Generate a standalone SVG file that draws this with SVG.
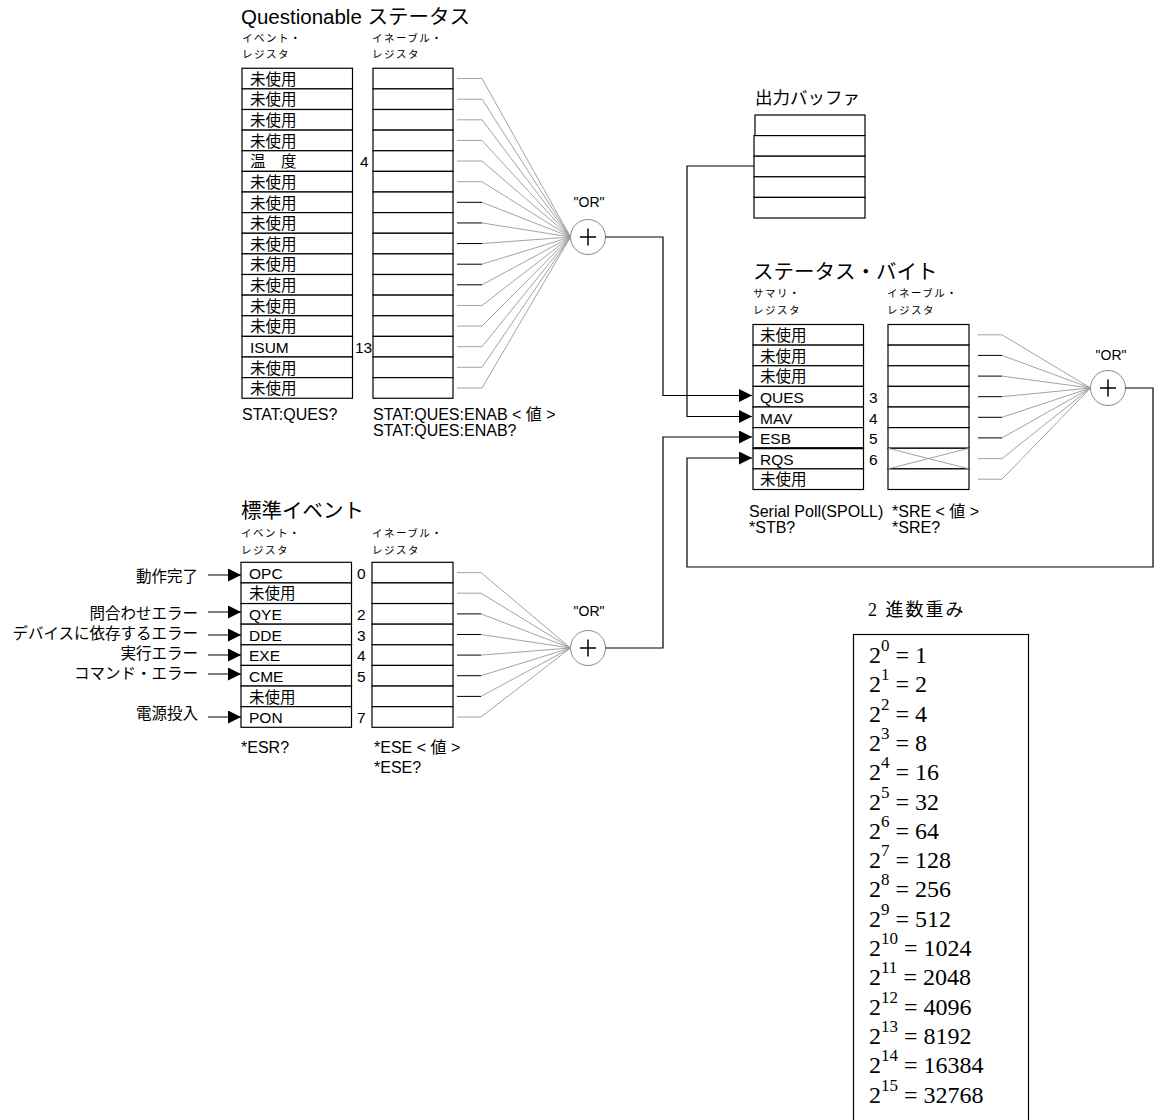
<svg xmlns="http://www.w3.org/2000/svg" width="1157" height="1120" viewBox="0 0 1157 1120">
<style>
text{font-family:"Liberation Sans","Noto Sans CJK JP",sans-serif;fill:#000}
.t{font-size:20.5px}
.tb{font-size:17.5px}
.s{font-size:10.5px;letter-spacing:1.5px}
.r{font-size:15.5px}
.c{font-size:16px}
.or{font-size:14px;text-anchor:middle}
.lb{font-size:15.5px;text-anchor:end}
.box{fill:#fff;stroke:#000;stroke-width:1.2}
.gate{fill:#fff;stroke:#888;stroke-width:1}
.plus{stroke:#000;stroke-width:1.5;fill:none}
.fg{stroke:#999;stroke-width:0.9;fill:none}
.fk{stroke:#000;stroke-width:1;fill:none}
.w{stroke:#000;stroke-width:1.2;fill:none}
.serif{font-family:"Liberation Serif","Noto Sans CJK JP",serif}
.bw{font-size:24px}
</style>
<defs>
<marker id="ah" markerUnits="userSpaceOnUse" markerWidth="13" markerHeight="13" refX="13" refY="6.5" orient="auto"><path d="M0,0 L13,6.5 L0,13 z" fill="#000"/></marker>
</defs>

<!-- Titles -->
<text class="t" x="241" y="24">Questionable ステータス</text>
<text class="s" x="242" y="42">イベント・</text>
<text class="s" x="242" y="58">レジスタ</text>
<text class="s" x="372" y="42">イネーブル・</text>
<text class="s" x="372" y="58">レジスタ</text>

<g id="ques-event">
<rect class="box" x="242" y="68.25" width="110.5" height="20.625"/>
<rect class="box" x="242" y="88.875" width="110.5" height="20.625"/>
<rect class="box" x="242" y="109.5" width="110.5" height="20.625"/>
<rect class="box" x="242" y="130.125" width="110.5" height="20.625"/>
<rect class="box" x="242" y="150.75" width="110.5" height="20.625"/>
<rect class="box" x="242" y="171.375" width="110.5" height="20.625"/>
<rect class="box" x="242" y="192" width="110.5" height="20.625"/>
<rect class="box" x="242" y="212.625" width="110.5" height="20.625"/>
<rect class="box" x="242" y="233.25" width="110.5" height="20.625"/>
<rect class="box" x="242" y="253.875" width="110.5" height="20.625"/>
<rect class="box" x="242" y="274.5" width="110.5" height="20.625"/>
<rect class="box" x="242" y="295.125" width="110.5" height="20.625"/>
<rect class="box" x="242" y="315.75" width="110.5" height="20.625"/>
<rect class="box" x="242" y="336.375" width="110.5" height="20.625"/>
<rect class="box" x="242" y="357" width="110.5" height="20.625"/>
<rect class="box" x="242" y="377.625" width="110.5" height="20.625"/>
<text class="r" x="250" y="84.75">未使用</text>
<text class="r" x="250" y="105.4">未使用</text>
<text class="r" x="250" y="126">未使用</text>
<text class="r" x="250" y="146.6">未使用</text>
<text class="r" x="250" y="167.25">温　度</text>
<text class="r" x="250" y="187.9">未使用</text>
<text class="r" x="250" y="208.5">未使用</text>
<text class="r" x="250" y="229.1">未使用</text>
<text class="r" x="250" y="249.75">未使用</text>
<text class="r" x="250" y="270.4">未使用</text>
<text class="r" x="250" y="291">未使用</text>
<text class="r" x="250" y="311.6">未使用</text>
<text class="r" x="250" y="332.25">未使用</text>
<text class="r" x="250" y="352.9">ISUM</text>
<text class="r" x="250" y="373.5">未使用</text>
<text class="r" x="250" y="394.1">未使用</text>
<text class="r" x="360" y="167.25">4</text>
<text class="r" x="355" y="352.9">13</text>
</g>

<g id="ques-enable">
<rect class="box" x="373" y="68.25" width="80" height="20.625"/>
<rect class="box" x="373" y="88.875" width="80" height="20.625"/>
<rect class="box" x="373" y="109.5" width="80" height="20.625"/>
<rect class="box" x="373" y="130.125" width="80" height="20.625"/>
<rect class="box" x="373" y="150.75" width="80" height="20.625"/>
<rect class="box" x="373" y="171.375" width="80" height="20.625"/>
<rect class="box" x="373" y="192" width="80" height="20.625"/>
<rect class="box" x="373" y="212.625" width="80" height="20.625"/>
<rect class="box" x="373" y="233.25" width="80" height="20.625"/>
<rect class="box" x="373" y="253.875" width="80" height="20.625"/>
<rect class="box" x="373" y="274.5" width="80" height="20.625"/>
<rect class="box" x="373" y="295.125" width="80" height="20.625"/>
<rect class="box" x="373" y="315.75" width="80" height="20.625"/>
<rect class="box" x="373" y="336.375" width="80" height="20.625"/>
<rect class="box" x="373" y="357" width="80" height="20.625"/>
<rect class="box" x="373" y="377.625" width="80" height="20.625"/>
</g>
<text class="c" x="242" y="420">STAT:QUES?</text>
<text class="c" x="373" y="420">STAT:QUES:ENAB &lt; 値 &gt;</text>
<text class="c" x="373" y="436">STAT:QUES:ENAB?</text>

<g id="ques-or">
<text class="or" x="589" y="207">"OR"</text>
<circle class="gate" cx="588" cy="237" r="17.5"/>
<path class="plus" d="M580,237 H596 M588,228.5 V245.5"/>
</g>

<!-- Output buffer -->
<text class="tb" x="755" y="104">出力バッファ</text>
<g id="output-buffer">
<rect class="box" x="755" y="115" width="110" height="20.6"/>
<rect class="box" x="754" y="135.6" width="111" height="20.6"/>
<rect class="box" x="754" y="156.2" width="111" height="20.6"/>
<rect class="box" x="754" y="176.8" width="111" height="20.6"/>
<rect class="box" x="754" y="197.4" width="111" height="20.6"/>
</g>

<!-- Status byte -->
<text class="t" x="753" y="279">ステータス・バイト</text>
<text class="s" x="753" y="297">サマリ・</text>
<text class="s" x="753" y="314">レジスタ</text>
<text class="s" x="887" y="297">イネーブル・</text>
<text class="s" x="887" y="314">レジスタ</text>

<g id="status-summary">
<rect class="box" x="753" y="324.5" width="110.5" height="20.625"/>
<rect class="box" x="753" y="345.125" width="110.5" height="20.625"/>
<rect class="box" x="753" y="365.75" width="110.5" height="20.625"/>
<rect class="box" x="753" y="386.375" width="110.5" height="20.625"/>
<rect class="box" x="753" y="407" width="110.5" height="20.625"/>
<rect class="box" x="753" y="427.625" width="110.5" height="20.625"/>
<rect class="box" x="753" y="448.25" width="110.5" height="20.625"/>
<rect class="box" x="753" y="468.875" width="110.5" height="20.625"/>
<path d="M753,448.25 H863.5" stroke="#000" stroke-width="2"/>
<text class="r" x="760" y="341">未使用</text>
<text class="r" x="760" y="361.6">未使用</text>
<text class="r" x="760" y="382.25">未使用</text>
<text class="r" x="760" y="402.9">QUES</text>
<text class="r" x="760" y="423.5">MAV</text>
<text class="r" x="760" y="444.1">ESB</text>
<text class="r" x="760" y="464.75">RQS</text>
<text class="r" x="760" y="485.4">未使用</text>
<text class="r" x="869" y="402.9">3</text>
<text class="r" x="869" y="423.5">4</text>
<text class="r" x="869" y="444.1">5</text>
<text class="r" x="869" y="464.75">6</text>
</g>

<g id="status-enable">
<rect class="box" x="888" y="324.5" width="81" height="20.625"/>
<rect class="box" x="888" y="345.125" width="81" height="20.625"/>
<rect class="box" x="888" y="365.75" width="81" height="20.625"/>
<rect class="box" x="888" y="386.375" width="81" height="20.625"/>
<rect class="box" x="888" y="407" width="81" height="20.625"/>
<rect class="box" x="888" y="427.625" width="81" height="20.625"/>
<rect class="box" x="888" y="448.25" width="81" height="20.625"/>
<rect class="box" x="888" y="468.875" width="81" height="20.625"/>
<path class="fg" d="M888,448.25 L969,468.875 M888,468.875 L969,448.25"/>
</g>
<text class="c" x="749" y="517">Serial Poll(SPOLL)</text>
<text class="c" x="749" y="533">*STB?</text>
<text class="c" x="892" y="517">*SRE &lt; 値 &gt;</text>
<text class="c" x="892" y="533">*SRE?</text>

<g id="status-or">
<text class="or" x="1111" y="360">"OR"</text>
<circle class="gate" cx="1108" cy="388" r="17.5"/>
<path class="plus" d="M1100,388 H1116 M1108,379.5 V396.5"/>
</g>

<!-- Standard event -->
<text class="t" x="241" y="518">標準イベント</text>
<text class="s" x="241" y="537">イベント・</text>
<text class="s" x="241" y="554">レジスタ</text>
<text class="s" x="372" y="537">イネーブル・</text>
<text class="s" x="372" y="554">レジスタ</text>

<g id="std-event">
<rect class="box" x="241" y="562.3" width="110.5" height="20.625"/>
<rect class="box" x="241" y="582.925" width="110.5" height="20.625"/>
<rect class="box" x="241" y="603.55" width="110.5" height="20.625"/>
<rect class="box" x="241" y="624.175" width="110.5" height="20.625"/>
<rect class="box" x="241" y="644.8" width="110.5" height="20.625"/>
<rect class="box" x="241" y="665.425" width="110.5" height="20.625"/>
<rect class="box" x="241" y="686.05" width="110.5" height="20.625"/>
<rect class="box" x="241" y="706.675" width="110.5" height="20.625"/>
<text class="r" x="249" y="578.8">OPC</text>
<text class="r" x="249" y="599.4">未使用</text>
<text class="r" x="249" y="620.05">QYE</text>
<text class="r" x="249" y="640.7">DDE</text>
<text class="r" x="249" y="661.3">EXE</text>
<text class="r" x="249" y="681.9">CME</text>
<text class="r" x="249" y="702.55">未使用</text>
<text class="r" x="249" y="723.2">PON</text>
<text class="r" x="357" y="578.8">0</text>
<text class="r" x="357" y="620.05">2</text>
<text class="r" x="357" y="640.7">3</text>
<text class="r" x="357" y="661.3">4</text>
<text class="r" x="357" y="681.9">5</text>
<text class="r" x="357" y="723.2">7</text>
</g>

<g id="std-enable">
<rect class="box" x="372" y="562.3" width="81" height="20.625"/>
<rect class="box" x="372" y="582.925" width="81" height="20.625"/>
<rect class="box" x="372" y="603.55" width="81" height="20.625"/>
<rect class="box" x="372" y="624.175" width="81" height="20.625"/>
<rect class="box" x="372" y="644.8" width="81" height="20.625"/>
<rect class="box" x="372" y="665.425" width="81" height="20.625"/>
<rect class="box" x="372" y="686.05" width="81" height="20.625"/>
<rect class="box" x="372" y="706.675" width="81" height="20.625"/>
</g>
<text class="c" x="241" y="753">*ESR?</text>
<text class="c" x="374" y="753">*ESE &lt; 値 &gt;</text>
<text class="c" x="374" y="773">*ESE?</text>

<g id="std-or">
<text class="or" x="589" y="616">"OR"</text>
<circle class="gate" cx="588" cy="648" r="17.5"/>
<path class="plus" d="M580,648 H596 M588,639.5 V656.5"/>
</g>

<g id="std-inputs">
<text class="lb" x="198" y="582">動作完了</text>
<text class="lb" x="198" y="619">問合わせエラー</text>
<text class="lb" x="198" y="639">デバイスに依存するエラー</text>
<text class="lb" x="198" y="659">実行エラー</text>
<text class="lb" x="198" y="679">コマンド・エラー</text>
<text class="lb" x="198" y="719">電源投入</text>
</g>

<!-- Binary weights -->
<text class="serif" x="868" y="616" font-size="18" letter-spacing="2">2 進数重み</text>
<g id="binary-weights">
<rect x="853.5" y="634.5" width="175" height="500" fill="none" stroke="#000" stroke-width="1.2"/>
<text class="serif bw" x="869" y="663">2<tspan font-size="17" dy="-12">0</tspan><tspan dy="12"> = 1</tspan></text>
<text class="serif bw" x="869" y="692.3">2<tspan font-size="17" dy="-12">1</tspan><tspan dy="12"> = 2</tspan></text>
<text class="serif bw" x="869" y="721.6">2<tspan font-size="17" dy="-12">2</tspan><tspan dy="12"> = 4</tspan></text>
<text class="serif bw" x="869" y="750.9">2<tspan font-size="17" dy="-12">3</tspan><tspan dy="12"> = 8</tspan></text>
<text class="serif bw" x="869" y="780.2">2<tspan font-size="17" dy="-12">4</tspan><tspan dy="12"> = 16</tspan></text>
<text class="serif bw" x="869" y="809.5">2<tspan font-size="17" dy="-12">5</tspan><tspan dy="12"> = 32</tspan></text>
<text class="serif bw" x="869" y="838.8">2<tspan font-size="17" dy="-12">6</tspan><tspan dy="12"> = 64</tspan></text>
<text class="serif bw" x="869" y="868.1">2<tspan font-size="17" dy="-12">7</tspan><tspan dy="12"> = 128</tspan></text>
<text class="serif bw" x="869" y="897.4">2<tspan font-size="17" dy="-12">8</tspan><tspan dy="12"> = 256</tspan></text>
<text class="serif bw" x="869" y="926.7">2<tspan font-size="17" dy="-12">9</tspan><tspan dy="12"> = 512</tspan></text>
<text class="serif bw" x="869" y="956">2<tspan font-size="17" dy="-12">10</tspan><tspan dy="12"> = 1024</tspan></text>
<text class="serif bw" x="869" y="985.3">2<tspan font-size="17" dy="-12">11</tspan><tspan dy="12"> = 2048</tspan></text>
<text class="serif bw" x="869" y="1014.6">2<tspan font-size="17" dy="-12">12</tspan><tspan dy="12"> = 4096</tspan></text>
<text class="serif bw" x="869" y="1043.9">2<tspan font-size="17" dy="-12">13</tspan><tspan dy="12"> = 8192</tspan></text>
<text class="serif bw" x="869" y="1073.2">2<tspan font-size="17" dy="-12">14</tspan><tspan dy="12"> = 16384</tspan></text>
<text class="serif bw" x="869" y="1102.5">2<tspan font-size="17" dy="-12">15</tspan><tspan dy="12"> = 32768</tspan></text>
</g>

<g id="connectors">
<!-- Questionable fan-in -->
<path class="fg" d="M457,78.56 H482 L570.5,237 M457,99.19 H482 L570.5,237 M457,119.81 H482 L570.5,237 M457,140.44 H482 L570.5,237 M457,161.06 H482 L570.5,237 M457,181.69 H482 L570.5,237 M482,202.31 L570.5,237 M482,222.94 L570.5,237 M482,243.56 L570.5,237 M482,264.19 L570.5,237 M482,284.81 L570.5,237 M457,305.44 H482 L570.5,237 M457,326.06 H482 L570.5,237 M457,346.69 H482 L570.5,237 M457,367.31 H482 L570.5,237 M457,387.94 H482 L570.5,237"/>
<path class="fk" d="M457,202.31 H482 M457,222.94 H482 M457,243.56 H482 M457,264.19 H482 M457,284.81 H482"/>
<!-- Standard fan-in -->
<path class="fg" d="M457,572.6 H481 L570.5,648 M457,593.2 H481 L570.5,648 M481,613.9 L570.5,648 M481,634.5 L570.5,648 M481,655.1 L570.5,648 M481,675.7 L570.5,648 M481,696.4 L570.5,648 M457,717 H481 L570.5,648"/>
<path class="fk" d="M457,613.9 H481 M457,634.5 H481 M457,655.1 H481 M457,675.7 H481 M457,696.4 H481"/>
<!-- Status fan-in -->
<path class="fg" d="M978,334.8 H1002 L1090.5,388 M1002,355.4 L1090.5,388 M1002,376.1 L1090.5,388 M1002,396.7 L1090.5,388 M1002,417.3 L1090.5,388 M1002,437.9 L1090.5,388 M978,458.6 H1002 L1090.5,388 M978,479.2 H1002 L1090.5,388"/>
<path class="fk" d="M978,355.4 H1002 M978,376.1 H1002 M978,396.7 H1002 M978,417.3 H1002 M978,437.9 H1002"/>

<!-- Main wires -->
<path class="w" d="M605.5,237 H663 V395.5 H752" marker-end="url(#ah)"/>
<path class="w" d="M754,166 H687 V416.5 H752" marker-end="url(#ah)"/>
<path class="w" d="M605.5,648 H663 V437 H752" marker-end="url(#ah)"/>
<path class="w" d="M1125.5,388 H1153 V567 H687 V458 H752" marker-end="url(#ah)"/>

<!-- Standard event inputs -->
<path class="w" d="M208,575 H241" marker-end="url(#ah)"/>
<path class="w" d="M208,612 H241" marker-end="url(#ah)"/>
<path class="w" d="M208,635 H241" marker-end="url(#ah)"/>
<path class="w" d="M208,655 H241" marker-end="url(#ah)"/>
<path class="w" d="M208,674 H241" marker-end="url(#ah)"/>
<path class="w" d="M208,717 H241" marker-end="url(#ah)"/>
</g>
</svg>
